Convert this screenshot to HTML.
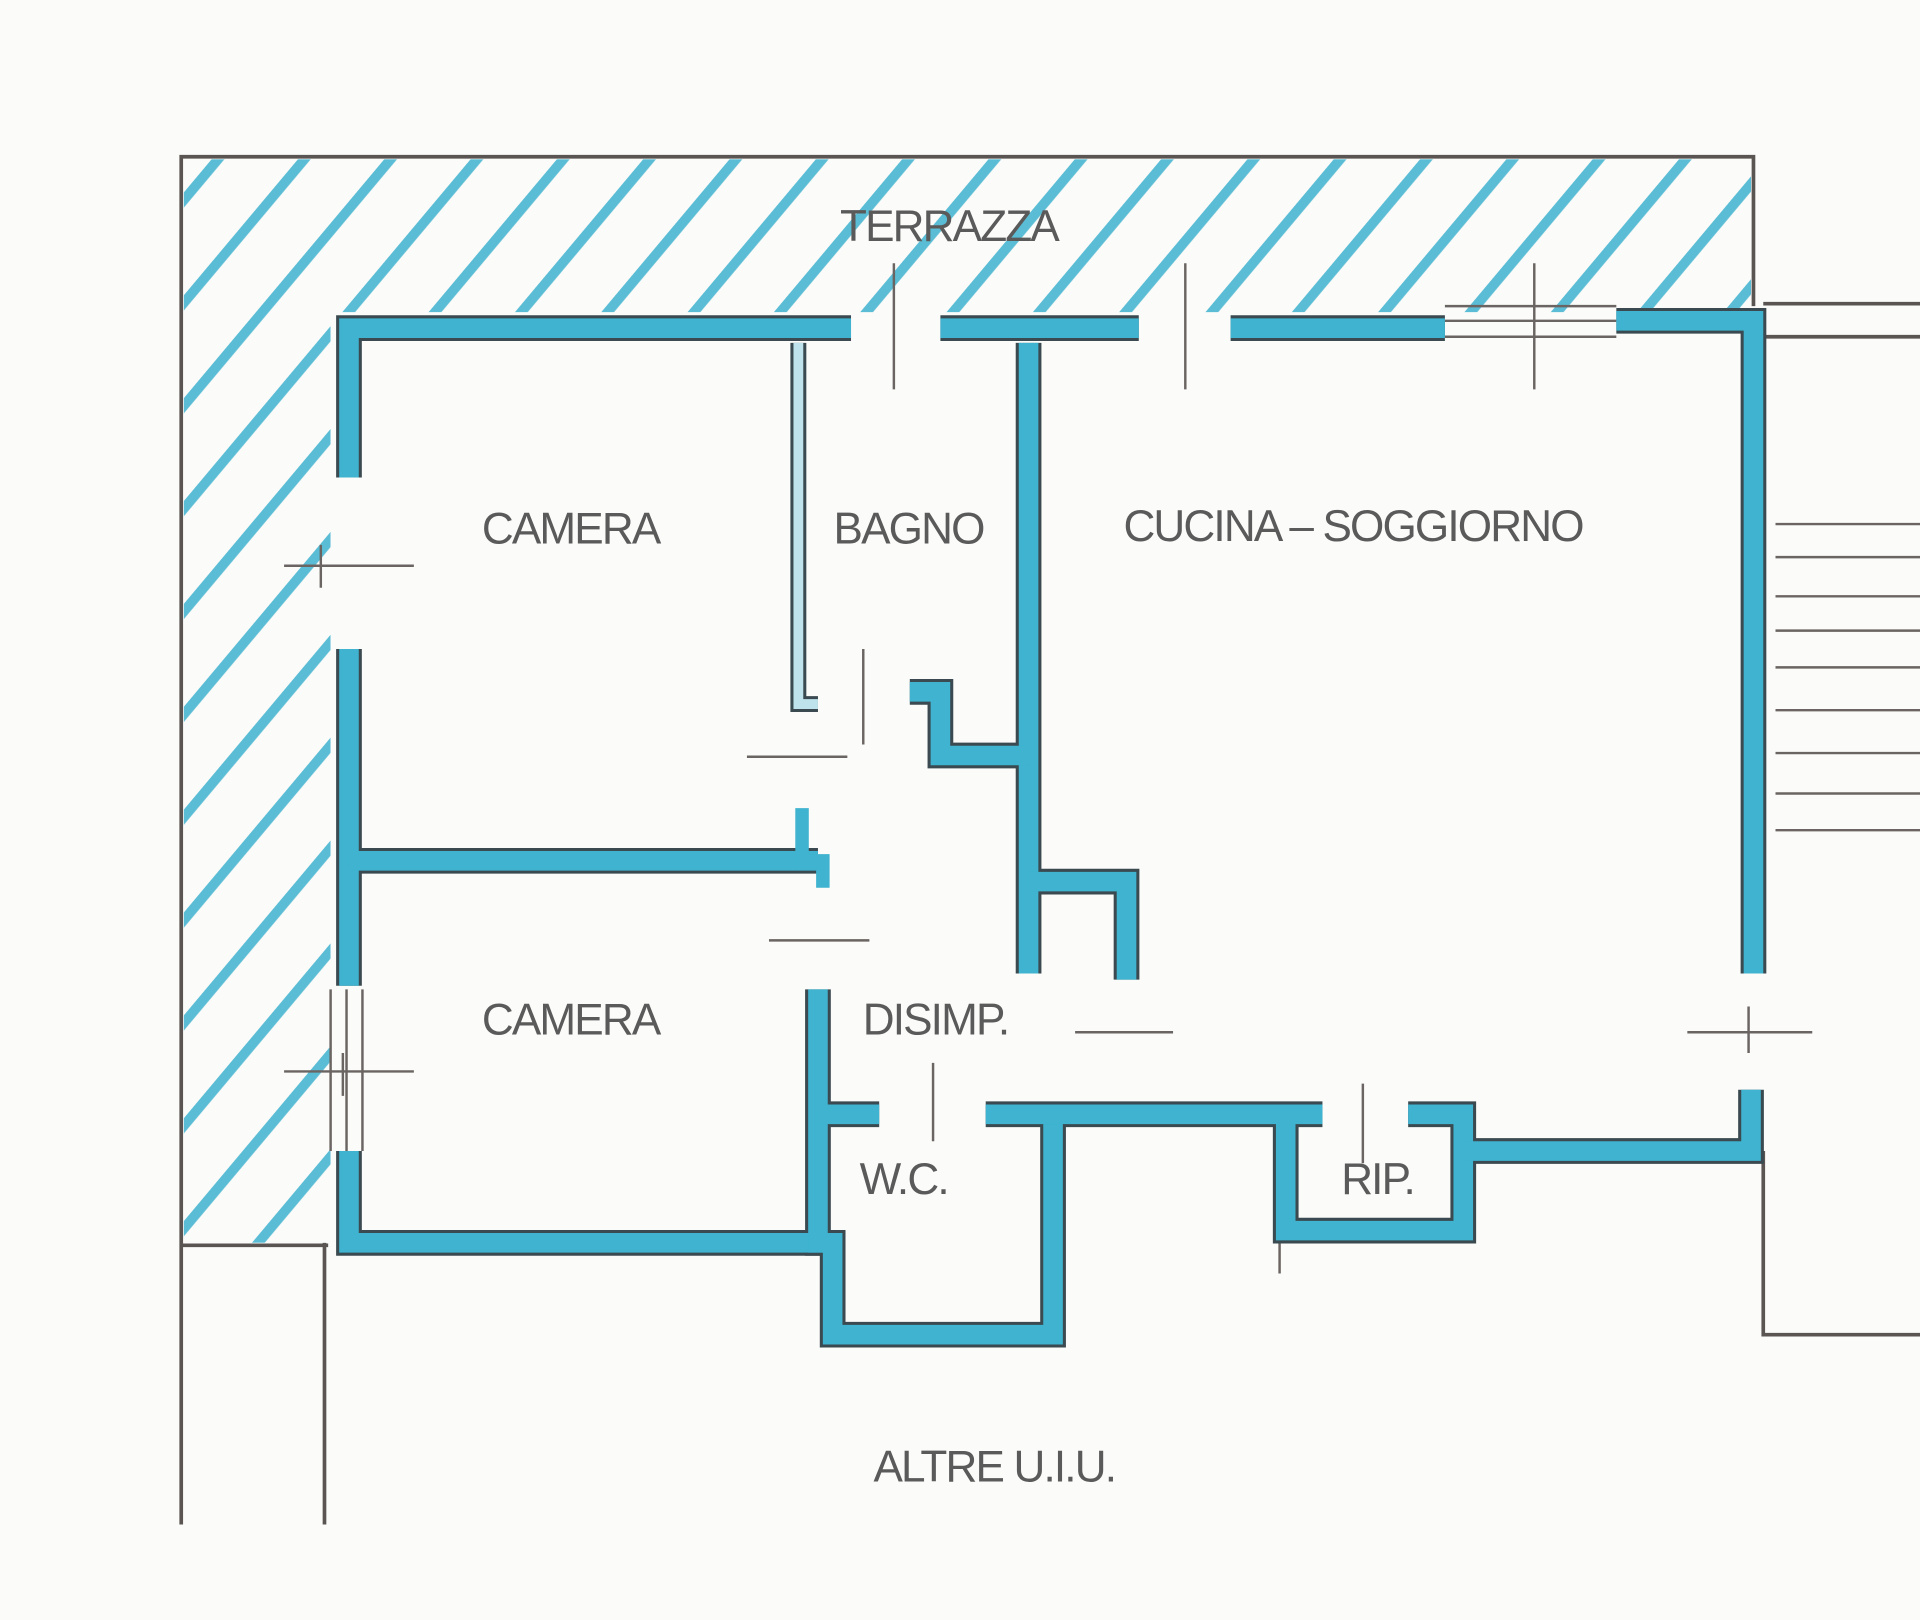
<!DOCTYPE html>
<html><head><meta charset="utf-8"><style>
html,body{margin:0;padding:0;background:#fbfbf9;}
svg{display:block}
text{font-family:"Liberation Sans",sans-serif;fill:#5a5a5a;font-size:36px;text-anchor:middle;letter-spacing:-1.5px}
</style></head><body>
<svg width="1920" height="1620" viewBox="0 0 1568 1323" preserveAspectRatio="none">
<defs>
<pattern id="h" patternUnits="userSpaceOnUse" width="54" height="54" patternTransform="rotate(40)">
<rect x="0" y="0" width="8" height="54" fill="#3fb3cf" opacity="0.85"/>
</pattern>
<clipPath id="terr"><path d="M150 130 H1430 V255 H270 V1015 H150 Z"/></clipPath>
</defs>
<rect width="1568" height="1323" fill="#fbfbf9"/>
<path d="M150 130 H1430 V255 H270 V1015 H150 Z" fill="url(#h)" clip-path="url(#terr)"/>
<g fill="none" stroke="#5a5452" stroke-width="3">
<path d="M148 1245 V128 H1432 V250"/>
<path d="M148 1017 H268"/>
<path d="M265 1015 V1245"/>
<path d="M1440 248 H1568 M1440 275 H1568"/>
<path d="M1440 940 V1090 H1568"/>
</g>
<g stroke="#6a6462" stroke-width="2">
<path d="M1450 428 H1568 M1450 455 H1568 M1450 487 H1568 M1450 515 H1568 M1450 545 H1568 M1450 580 H1568 M1450 615 H1568 M1450 648 H1568 M1450 678 H1568"/>
<path d="M232 462 H338 M232 875 H338 M610 618 H692 M628 768 H710 M878 843 H958 M1378 843 H1480"/>
<path d="M730 215 V318 M968 215 V318 M1253 215 V318 M262 445 V480 M280 860 V895 M705 530 V608 M762 868 V932 M1113 885 V950 M1428 822 V860 M1045 910 V1040"/>
<path d="M1180 250 H1320 M1180 262 H1320 M1180 275 H1320"/>
<path d="M270 808 V940 M283 808 V940 M296 808 V940"/>
</g>
<g fill="none" stroke="#3a4a50" stroke-width="21" stroke-linejoin="miter">
<path d="M285 390 V268 H695 M768 268 H930 M1005 268 H1180 M1320 262 H1432 V795"/>
<path d="M285 530 V805 M285 940 V1015 H680"/>
<path d="M840 280 V795"/>
<path d="M840 720 H920 V800"/>
<path d="M743 565 H768 V617 H840"/>
<path d="M285 703 H668"/>
<path d="M668 808 V1015 H680 V1090 H860 V910"/>
<path d="M668 910 H718 M805 910 H1080 M1050 910 V1005 H1195 V910 H1150"/>
<path d="M1195 940 H1430 V890"/>
</g>
<g fill="none" stroke="#3fb3cf" stroke-width="16" stroke-linejoin="miter">
<path d="M285 390 V268 H695 M768 268 H930 M1005 268 H1180 M1320 262 H1432 V795"/>
<path d="M285 530 V805 M285 940 V1015 H680"/>
<path d="M840 280 V795"/>
<path d="M840 720 H920 V800"/>
<path d="M743 565 H768 V617 H840"/>
<path d="M285 703 H668"/>
<path d="M668 808 V1015 H680 V1090 H860 V910"/>
<path d="M668 910 H718 M805 910 H1080 M1050 910 V1005 H1195 V910 H1150"/>
<path d="M1195 940 H1430 V890"/>
</g>
<path d="M652 280 V575 H668" fill="none" stroke="#3a4a50" stroke-width="13"/>
<path d="M652 280 V575 H668" fill="none" stroke="#bfe3ec" stroke-width="8"/>
<path d="M655 660 V703 H672 V725" fill="none" stroke="#3fb3cf" stroke-width="11"/>
<text x="775" y="197">TERRAZZA</text>
<text x="466" y="444">CAMERA</text>
<text x="742" y="444">BAGNO</text>
<text x="1105" y="442">CUCINA  –  SOGGIORNO</text>
<text x="466" y="845">CAMERA</text>
<text x="764" y="845">DISIMP.</text>
<text x="738" y="975">W.C.</text>
<text x="1125" y="975">RIP.</text>
<text x="812" y="1210">ALTRE U.I.U.</text>
</svg>
</body></html>
